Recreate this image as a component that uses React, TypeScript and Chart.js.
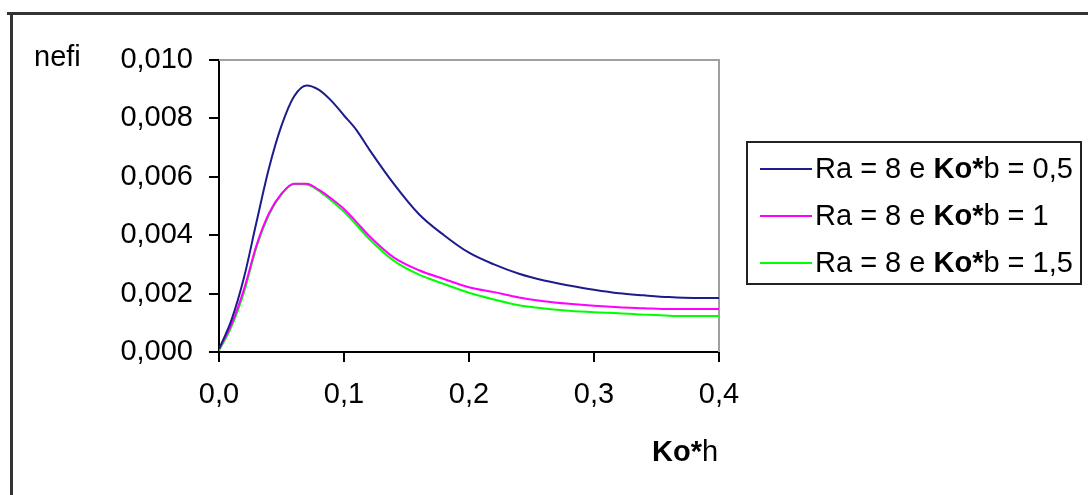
import React, { useEffect, useRef } from "react";
import { Chart, registerables } from "chart.js";

Chart.register(...registerables);

// ---- data ----
const xValues = [
  0, 0.01, 0.02, 0.03, 0.04, 0.05, 0.06, 0.07, 0.08, 0.09, 0.1, 0.11, 0.12, 0.14, 0.16,
  0.18, 0.2, 0.22, 0.24, 0.26, 0.28, 0.3, 0.32, 0.34, 0.36, 0.38, 0.4,
];
const seriesKo05 = [
  0.0001, 0.0011, 0.00255, 0.00445, 0.0063, 0.00775, 0.00875, 0.00913, 0.00898, 0.0086,
  0.0081, 0.0076, 0.00695, 0.00575, 0.00472, 0.004, 0.0034, 0.003, 0.00268, 0.00245,
  0.00228, 0.00213, 0.00201, 0.00194, 0.00188, 0.00185, 0.00185,
];
const seriesKo1 = [
  0.0001, 0.00095, 0.00215, 0.00365, 0.00475, 0.00542, 0.00576, 0.00576, 0.00555, 0.00525,
  0.0049, 0.00445, 0.00398, 0.00323, 0.0028, 0.0025, 0.00222, 0.00205, 0.00187, 0.00174,
  0.00165, 0.00158, 0.00153, 0.0015, 0.00147, 0.00147, 0.00147,
];
const seriesKo15 = [
  0.00005, 0.00087, 0.00205, 0.0036, 0.0047, 0.0054, 0.00575, 0.00574, 0.00552, 0.00518,
  0.0048, 0.00435, 0.00388, 0.00312, 0.00265, 0.00233, 0.00203, 0.0018, 0.0016, 0.00149,
  0.00141, 0.00136, 0.00133, 0.00128, 0.00124, 0.00123, 0.00123,
];
const seriesNames = ["Ra = 8 e Ko*b = 0,5", "Ra = 8 e Ko*b = 1", "Ra = 8 e Ko*b = 1,5"];
const seriesColors = ["#1c1c8c", "#ff00ff", "#00ff00"];
const yTickValues = [0, 0.002, 0.004, 0.006, 0.008, 0.01];
const xTickValues = [0, 0.1, 0.2, 0.3, 0.4];
const yTitle = "nefi";
const xTitle = "Ko*h";

const FONT = '"Liberation Sans", Arial, sans-serif';
const FS = 29;

function drawRich(ctx: CanvasRenderingContext2D, text: string, x: number, y: number) {
  const parts = text.split(/(Ko\*)/).filter((p) => p.length > 0);
  let cx = x;
  for (const p of parts) {
    const bold = p === "Ko*";
    ctx.font = `${bold ? "bold " : ""}${FS}px ${FONT}`;
    ctx.fillText(p, cx, y);
    cx += ctx.measureText(p).width;
  }
}

const decorPlugin = {
  id: "decor",
  beforeDatasetsDraw(chart: any) {
    const { ctx, chartArea } = chart;
    ctx.save();
    ctx.strokeStyle = "#a0a0a0";
    ctx.lineWidth = 2;
    ctx.beginPath();
    ctx.moveTo(chartArea.left, chartArea.top);
    ctx.lineTo(chartArea.right, chartArea.top);
    ctx.lineTo(chartArea.right, chartArea.bottom);
    ctx.stroke();
    ctx.restore();
  },
  afterDraw(chart: any) {
    const { ctx } = chart;
    ctx.save();
    // outer frame lines
    ctx.strokeStyle = "#333";
    ctx.lineWidth = 3;
    ctx.beginPath();
    ctx.moveTo(7, 13.5);
    ctx.lineTo(1088, 13.5);
    ctx.moveTo(11.5, 12);
    ctx.lineTo(11.5, 495);
    ctx.stroke();

    ctx.fillStyle = "#000";
    ctx.textBaseline = "alphabetic";
    ctx.textAlign = "left";
    ctx.font = `${FS}px ${FONT}`;
    ctx.fillText(yTitle, 34, 66);
    drawRich(ctx, xTitle, 652, 461);

    // legend
    const bx = 747, by = 142, bw = 334, bh = 142;
    ctx.strokeStyle = "#222";
    ctx.lineWidth = 2;
    ctx.strokeRect(bx, by, bw, bh);
    const rows = [169, 216, 263];
    chart.data.datasets.forEach((ds: any, i: number) => {
      ctx.strokeStyle = ds.borderColor;
      ctx.lineWidth = 2;
      ctx.beginPath();
      ctx.moveTo(760, rows[i]);
      ctx.lineTo(812, rows[i]);
      ctx.stroke();
      ctx.fillStyle = "#000";
      ctx.textBaseline = "middle";
      drawRich(ctx, ds.label, 815, rows[i] + 1);
    });
    ctx.restore();
  },
};

export default function App() {
  const ref = useRef<HTMLCanvasElement>(null);
  useEffect(() => {
    if (!ref.current) return;
    const allSeries = [seriesKo05, seriesKo1, seriesKo15];
    const chart = new Chart(ref.current, {
      type: "line",
      data: {
        datasets: allSeries.map((s, i) => ({
          label: seriesNames[i],
          data: xValues.map((x, j) => ({ x, y: s[j] })),
          borderColor: seriesColors[i],
          backgroundColor: seriesColors[i],
          borderWidth: 2,
          pointRadius: 0,
          cubicInterpolationMode: "monotone" as const,
          fill: false,
        })),
      },
      options: {
        responsive: false,
        animation: false,
        layout: { padding: { left: 0, top: 60, right: 369, bottom: 0 } },
        plugins: { legend: { display: false }, tooltip: { enabled: false } },
        scales: {
          x: {
            type: "linear",
            min: 0,
            max: 0.4,
            afterFit: (s: any) => {
              s.height = 143;
            },
            afterBuildTicks: (s: any) => {
              s.ticks = xTickValues.map((v) => ({ value: v }));
            },
            ticks: {
              padding: 16,
              color: "#000",
              font: { family: FONT, size: FS },
              maxRotation: 0,
              callback: (v: any) => Number(v).toFixed(1).replace(".", ","),
            },
            grid: { drawOnChartArea: false, tickLength: 10, color: "#000", lineWidth: 2 },
            border: { color: "#000", width: 2 },
          },
          y: {
            type: "linear",
            min: 0,
            max: 0.01,
            afterFit: (s: any) => {
              s.width = 219;
            },
            afterBuildTicks: (s: any) => {
              s.ticks = yTickValues.map((v) => ({ value: v }));
            },
            ticks: {
              padding: 16,
              color: "#000",
              font: { family: FONT, size: FS },
              callback: (v: any) => Number(v).toFixed(3).replace(".", ","),
            },
            grid: { drawOnChartArea: false, tickLength: 10, color: "#000", lineWidth: 2 },
            border: { color: "#000", width: 2 },
          },
        },
      },
      plugins: [decorPlugin],
    } as any);
    return () => chart.destroy();
  }, []);
  return (
    <div style={{ position: "absolute", left: 0, top: 0, width: 1088, height: 495, background: "#fff" }}>
      <canvas ref={ref} width={1088} height={495} style={{ width: 1088, height: 495, display: "block" }} />
    </div>
  );
}
